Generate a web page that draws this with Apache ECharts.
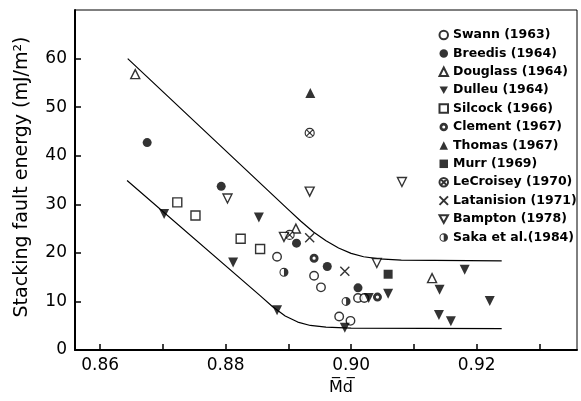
<!DOCTYPE html>
<html>
<head>
<meta charset="utf-8">
<script src="https://cdn.jsdelivr.net/npm/echarts@6/dist/echarts.min.js"></script>
<style>html,body{margin:0;padding:0;background:#fff}#c{width:581px;height:401px}</style>
</head>
<body>
<div id="c"></div>
<script>
// ---- data ----
const swann      = [[0.8882,19.2],[0.8941,15.3],[0.8952,12.9],[0.9011,10.7],[0.9021,10.7],[0.8981,6.9],[0.8999,6.0]];
const breedis    = [[0.8675,42.7],[0.8793,33.7],[0.8913,22.0],[0.8962,17.2],[0.9011,12.8]];
const douglass   = [[0.8656,56.8],[0.8912,25.0],[0.9129,14.8]];
const dulleu     = [[0.8702,28.0],[0.8812,18.0],[0.8853,27.3],[0.8882,8.2],[0.8990,4.6],[0.9028,10.7],[0.9059,11.6],[0.9181,16.5],[0.9141,12.4],[0.9221,10.1],[0.9140,7.2],[0.9159,5.9]];
const silcock    = [[0.8723,30.4],[0.8752,27.7],[0.8824,22.9],[0.8855,20.8]];
const clement    = [[0.8941,18.9],[0.9042,10.9]];
const thomas     = [[0.8935,52.9]];
const murr       = [[0.9059,15.6]];
const lecroisey  = [[0.8934,44.7],[0.8902,23.7]];
const latanision = [[0.8934,23.1],[0.8990,16.2]];
const bampton    = [[0.8803,31.2],[0.8893,23.3],[0.8934,32.6],[0.9081,34.6],[0.9041,17.9]];
const saka       = [[0.8893,16.0],[0.8992,10.0]];
const upperBound = [[0.8644,60.0],[0.8900,28.9],[0.8920,26.5],[0.8940,24.3],[0.8960,22.5],[0.8980,21.0],[0.9000,19.9],[0.9020,19.2],[0.9045,18.75],[0.9080,18.5],[0.9240,18.35]];
const lowerBound = [[0.8643,34.9],[0.8855,11.2],[0.8875,8.9],[0.8895,7.0],[0.8915,5.75],[0.8935,5.05],[0.8960,4.7],[0.9000,4.5],[0.9240,4.39]];
const xTicks  = [0.86,0.87,0.88,0.89,0.90,0.91,0.92,0.93];
const xLabels = [0.86,0.88,0.90,0.92];
const yTicks  = [0,10,20,30,40,50,60];

const FONT = 'DejaVu Sans';
const DOWN = 'path://M0,0L10,0L5,9Z';
const RING = 'path://M5,0A5,5 0 1,1 5,10A5,5 0 1,1 5,0ZM5,3.2A1.8,1.8 0 1,0 5,6.8A1.8,1.8 0 1,0 5,3.2Z';
const OX   = 'path://M5,0A5,5 0 1,1 5,10A5,5 0 1,1 5,0ZM1.6,1.6L8.4,8.4M8.4,1.6L1.6,8.4';
const CROSS= 'path://M0,0L10,10M10,0L0,10';
const HALF = 'path://M5,0A5,5 0 0,1 5,10ZM5,0A5,5 0 0,0 5,10L5,8.8A3.8,3.8 0 0,1 5,1.2Z';

const filled = {color:'#000'};
const open = {color:'#fff', borderColor:'#000', borderWidth:1.4};
function sc(name, data, symbol, style, size){
  return {name, type:'scatter', data, symbol, symbolSize:size||9, itemStyle:style, z:3};
}
const series = [
  sc('Swann (1963)', swann, 'circle', open, 8.5),
  sc('Breedis (1964)', breedis, 'circle', filled, 9),
  sc('Douglass (1964)', douglass, 'triangle', open, 9),
  sc('Dulleu (1964)', dulleu, DOWN, filled, 10),
  sc('Silcock (1966)', silcock, 'rect', open, 9),
  sc('Clement (1967)', clement, RING, filled, 9),
  sc('Thomas (1967)', thomas, 'triangle', filled, 10),
  sc('Murr (1969)', murr, 'rect', filled, 9),
  sc('LeCroisey (1970)', lecroisey, OX, {color:'#fff', borderColor:'#000', borderWidth:1.2}, 9),
  sc('Latanision (1971)', latanision, CROSS, {color:'none', borderColor:'#000', borderWidth:1.4}, 9),
  sc('Bampton (1978)', bampton, DOWN, open, 9),
  sc('Saka et al.(1984)', saka, HALF, filled, 9),
  {name:'upper', type:'line', data:upperBound, symbol:'none', smooth:false, silent:true,
   lineStyle:{color:'#000', width:1.2, join:'round'}, z:2},
  {name:'lower', type:'line', data:lowerBound, symbol:'none', smooth:false, silent:true,
   lineStyle:{color:'#000', width:1.2, join:'round'}, z:2}
];

const chart = echarts.init(document.getElementById('c'), null, {renderer:'canvas'});
chart.setOption({
  backgroundColor:'#fff',
  animation:false,
  grid:{left:75, right:4, top:10, bottom:50, show:true, borderColor:'#000', borderWidth:1, backgroundColor:'transparent'},
  legend:{
    orient:'vertical', left:437, top:28, padding:0,
    itemWidth:8.5, itemHeight:8.5, itemGap:4.4,
    data: series.filter(s=>s.type==='scatter').map(s=>s.name),
    textStyle:{fontFamily:FONT, fontWeight:'bold', fontSize:12.5, color:'#000', lineHeight:14},
    selectedMode:false
  },
  xAxis:{
    type:'value', min:0.856, max:0.936,
    name:'M\u0305d\u0305', nameLocation:'middle', nameGap:30,
    nameTextStyle:{fontFamily:FONT, fontSize:16, color:'#000', padding:[0,0,0,30]},
    axisLine:{show:true, lineStyle:{color:'#000', width:2}},
    axisTick:{show:true, inside:true, length:6, lineStyle:{color:'#000', width:1.5}, customValues:xTicks},
    axisLabel:{customValues:xLabels, fontFamily:FONT, fontSize:17, color:'#000', margin:7,
      formatter:v=>v.toFixed(2)},
    splitLine:{show:false}
  },
  yAxis:{
    type:'value', min:0, max:70,
    name:'Stacking fault energy (mJ/m²)', nameLocation:'middle', nameGap:43, nameRotate:90,
    nameTextStyle:{fontFamily:FONT, fontSize:19, color:'#000', padding:[0,0,0,6]},
    axisLine:{show:true, lineStyle:{color:'#000', width:2}},
    axisTick:{show:true, inside:true, length:6, lineStyle:{color:'#000', width:1.5}, customValues:yTicks},
    axisLabel:{customValues:yTicks, fontFamily:FONT, fontSize:17, color:'#000', margin:8},
    splitLine:{show:false}
  },
  series
});
</script>
</body>
</html>
